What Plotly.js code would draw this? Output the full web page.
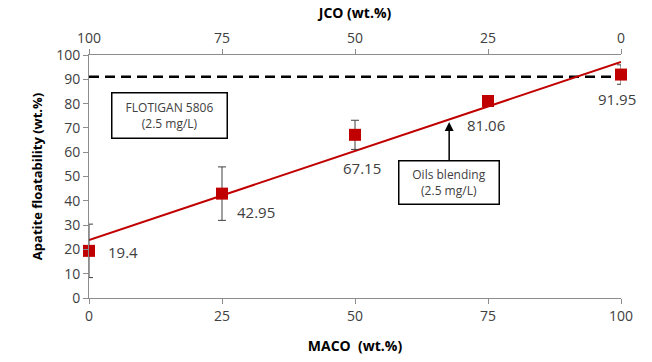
<!DOCTYPE html>
<html><head><meta charset="utf-8">
<script src="https://cdn.plot.ly/plotly-3.0.1.min.js"></script>
<style>html,body{margin:0;padding:0;background:#fff}#chart{width:652px;height:362px}</style>
</head><body><div id="chart"></div>
<script>
// Data
const maco = [0, 25, 50, 75, 100];
const jco = [100, 75, 50, 25, 0];
const floatability = [19.4, 42.95, 67.15, 81.06, 91.95];
const errors = [11, 11, 6, 1.5, 4];
const flotiganLevel = 91;
const labels = ['19.4', '42.95', '67.15', '81.06', '91.95'];

// Linear trend line (least squares) from the data
const n = maco.length;
const mx = maco.reduce((a,b)=>a+b,0)/n;
const my = floatability.reduce((a,b)=>a+b,0)/n;
let sxy=0, sxx=0;
for (let i=0;i<n;i++){ sxy += (maco[i]-mx)*(floatability[i]-my); sxx += (maco[i]-mx)**2; }
const slope = sxy/sxx, icpt = my - slope*mx;
const trendX = [maco[0], maco[n-1]];
const trendY = trendX.map(x => icpt + slope*x);

const red = '#C00000';
const axisCol = '#8C8C8C';
const txtCol = '#404040';
const font = 'Open Sans, Noto Sans, sans-serif';

const traces = [
  { x: [maco[0], maco[n-1]], y: [flotiganLevel, flotiganLevel], mode: 'lines',
    line: {color: '#000', width: 2.5, dash: '10px,6px'}, hoverinfo: 'skip', cliponaxis: false },
  { x: trendX, y: trendY, mode: 'lines', line: {color: red, width: 2}, hoverinfo: 'skip', cliponaxis: false },
  { x: maco, y: floatability, mode: 'markers', cliponaxis: false,
    marker: {symbol: 'square', size: 12, color: red},
    error_y: {type: 'data', array: errors, visible: true, color: '#404040', thickness: 1, width: 4} },
  { x: jco, y: floatability, xaxis: 'x2', mode: 'markers', marker: {opacity: 0}, hoverinfo: 'skip' }
];

const lblOffsets = [[34, -1], [34, -18], [7, -33], [-2, -24], [-4, -24]];
const annotations = maco.map((x, i) => ({
  x: x, y: floatability[i], xref: 'x', yref: 'y', text: labels[i], showarrow: false,
  xshift: lblOffsets[i][0], yshift: lblOffsets[i][1],
  font: {family: font, size: 15, color: txtCol}
}));
annotations.push({
  xref: 'paper', yref: 'paper', x: 0.152, y: 0.753, xanchor: 'center', yanchor: 'middle',
  text: 'FLOTIGAN 5806<br>(2.5 mg/L)',
  showarrow: false, bordercolor: '#000', borderwidth: 1.5, borderpad: 1, bgcolor: '#fff',
  width: 112, height: 42, font: {family: font, size: 12, color: txtCol}
});
annotations.push({
  xref: 'x', yref: 'y', x: 67.7, y: 72.4, text: 'Oils blending<br>(2.5 mg/L)',
  showarrow: true, arrowhead: 2, arrowsize: 1.2, arrowwidth: 1.5, arrowcolor: '#000', ax: 0, ay: 60,
  bordercolor: '#000', borderwidth: 1.5, borderpad: 1, bgcolor: '#fff',
  width: 97, height: 40, font: {family: font, size: 12, color: txtCol}
});

const layout = {
  width: 652, height: 362,
  margin: {l: 89, r: 31, t: 55, b: 64},
  paper_bgcolor: '#fff', plot_bgcolor: '#fff',
  showlegend: false,
  font: {family: font, color: txtCol},
  xaxis: {
    range: [0, 100], tickvals: maco, ticks: 'outside', ticklen: 5, tickcolor: axisCol,
    showline: true, linecolor: axisCol, linewidth: 1, showgrid: false, zeroline: false,
    tickfont: {family: font, size: 14, color: txtCol},
    title: {text: '<b>MACO  (wt.%)</b>', font: {family: font, size: 14, color: '#000'}, standoff: 17}
  },
  xaxis2: {
    overlaying: 'x', side: 'top', range: [100, 0], tickvals: jco, ticks: 'outside', ticklen: 5,
    tickcolor: axisCol, showline: true, linecolor: axisCol, linewidth: 1, showgrid: false, zeroline: false,
    tickfont: {family: font, size: 14, color: txtCol},
    title: {text: '<b>JCO (wt.%)</b>', font: {family: font, size: 14, color: '#000'}, standoff: 6}
  },
  yaxis: {
    range: [0, 100], dtick: 10, ticks: 'outside', ticklen: 5, tickcolor: axisCol,
    showline: true, linecolor: axisCol, linewidth: 1, showgrid: false, zeroline: false,
    tickfont: {family: font, size: 14, color: txtCol},
    title: {text: '<b>Apatite floatability (wt.%)</b>', font: {family: font, size: 13, color: '#000'}, standoff: 10}
  },
  annotations: annotations
};

Plotly.newPlot('chart', traces, layout, {displayModeBar: false, staticPlot: true});
</script></body></html>
